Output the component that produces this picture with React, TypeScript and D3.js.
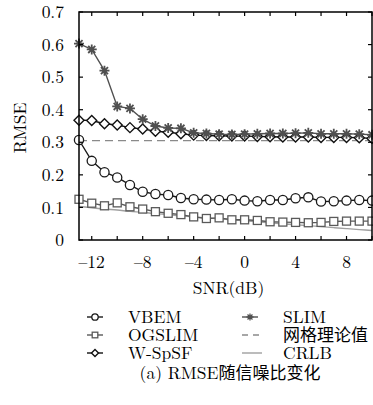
import React from "react";
import * as d3 from "d3";

const snr = d3.range(-13, 11, 1);
const vbem = [0.307, 0.243, 0.208, 0.192, 0.169, 0.148, 0.141, 0.138, 0.129, 0.125, 0.124, 0.123, 0.125, 0.121, 0.119, 0.123, 0.123, 0.128, 0.131, 0.118, 0.119, 0.121, 0.123, 0.121];
const ogslim = [0.125, 0.113, 0.105, 0.114, 0.102, 0.095, 0.087, 0.082, 0.078, 0.071, 0.066, 0.068, 0.062, 0.062, 0.06, 0.056, 0.055, 0.054, 0.053, 0.054, 0.057, 0.058, 0.058, 0.058];
const wspsf = [0.368, 0.367, 0.357, 0.353, 0.345, 0.341, 0.334, 0.331, 0.326, 0.322, 0.321, 0.32, 0.319, 0.319, 0.318, 0.317, 0.316, 0.316, 0.316, 0.315, 0.315, 0.315, 0.314, 0.312];
const slim = [0.603, 0.585, 0.52, 0.41, 0.404, 0.371, 0.35, 0.344, 0.343, 0.329, 0.327, 0.325, 0.324, 0.325, 0.326, 0.327, 0.327, 0.328, 0.329, 0.326, 0.326, 0.326, 0.325, 0.323];
const crlb = [0.103, 0.099, 0.095, 0.092, 0.088, 0.085, 0.081, 0.078, 0.074, 0.071, 0.068, 0.065, 0.062, 0.059, 0.056, 0.053, 0.05, 0.047, 0.044, 0.041, 0.038, 0.035, 0.032, 0.029];
const gridTheory = 0.305;
const yTicks = [0, 0.1, 0.2, 0.3, 0.4, 0.5, 0.6, 0.7];
const xLabels = [-12, -8, -4, 0, 4, 8];

const W = 373, H = 405;
const L = 79, R = 372, T = 12, B = 240;
const FS = 17.5;
const serif = { fontFamily: "Latin Modern Roman, Liberation Serif, serif" };
const cjk = { fontFamily: "Noto Sans CJK SC, sans-serif" };

const x = d3.scaleLinear().domain([-13, 10]).range([L, R]);
const y = d3.scaleLinear().domain([0, 0.7]).range([B, T]);

type Kind = "circle" | "square" | "diamond" | "star";

function Marker({ kind, cx, cy, color, k = 1 }: { kind: Kind; cx: number; cy: number; color: string; k?: number }) {
  if (kind === "circle") return <circle cx={cx} cy={cy} r={4.6 * k} fill="white" stroke={color} strokeWidth={1.3} />;
  if (kind === "square") return <rect x={cx - 4 * k} y={cy - 4 * k} width={8 * k} height={8 * k} fill="white" stroke={color} strokeWidth={1.3} />;
  if (kind === "diamond") {
    const s = 5 * k;
    return <path d={`M${cx},${cy - s}L${cx + s},${cy}L${cx},${cy + s}L${cx - s},${cy}Z`} fill="white" stroke={color} strokeWidth={1.4} />;
  }
  const r = 5 * k;
  const d = [0, 45, 90, 135]
    .map((a) => {
      const t = (a * Math.PI) / 180;
      return `M${cx - r * Math.cos(t)},${cy - r * Math.sin(t)}L${cx + r * Math.cos(t)},${cy + r * Math.sin(t)}`;
    })
    .join("");
  return (
    <g>
      <path d={d} stroke={color} strokeWidth={1.8 * k} />
      <circle cx={cx} cy={cy} r={2 * k} fill={color} />
    </g>
  );
}

const series: { name: string; values: number[]; kind: Kind; color: string }[] = [
  { name: "VBEM", values: vbem, kind: "circle", color: "#1a1a1a" },
  { name: "OGSLIM", values: ogslim, kind: "square", color: "#5a5a5a" },
  { name: "W-SpSF", values: wspsf, kind: "diamond", color: "#111" },
  { name: "SLIM", values: slim, kind: "star", color: "#505050" },
];

export default function App() {
  const line = d3
    .line<number>()
    .x((_, i) => x(snr[i]))
    .y((d) => y(d));
  const smooth = d3
    .line<number>()
    .x((_, i) => x(snr[i]))
    .y((d) => y(d))
    .curve(d3.curveMonotoneX);
  const minorX = d3.range(-12, 11, 2);

  return (
    <svg width={W} height={H} style={{ position: "absolute", left: 0, top: 0, background: "white" }}>
      {/* reference lines */}
      <line x1={L} x2={R} y1={y(gridTheory)} y2={y(gridTheory)} stroke="#8a8a8a" strokeWidth={1.3} strokeDasharray="8,5" />
      <path d={smooth(crlb) || ""} fill="none" stroke="#a0a0a0" strokeWidth={1.4} />
      {/* series */}
      {series.map((s) => (
        <g key={s.name}>
          <path d={line(s.values) || ""} fill="none" stroke={s.color} strokeWidth={1.4} />
          {s.values.map((v, i) => (
            <Marker key={i} kind={s.kind} cx={x(snr[i])} cy={y(v)} color={s.color} />
          ))}
        </g>
      ))}
      {/* frame & ticks */}
      <rect x={L} y={T} width={R - L} height={B - T} fill="none" stroke="black" strokeWidth={1.5} />
      {minorX.map((t) => (
        <g key={t}>
          <line x1={x(t)} x2={x(t)} y1={B} y2={B - 4} stroke="black" strokeWidth={1.2} />
          <line x1={x(t)} x2={x(t)} y1={T} y2={T + 4} stroke="black" strokeWidth={1.2} />
        </g>
      ))}
      {yTicks.map((t) => (
        <g key={t}>
          <line x1={L} x2={L + 4} y1={y(t)} y2={y(t)} stroke="black" strokeWidth={1.2} />
          <line x1={R} x2={R - 4} y1={y(t)} y2={y(t)} stroke="black" strokeWidth={1.2} />
          <text x={64} y={y(t)} dy="0.35em" textAnchor="end" fontSize={FS} style={serif}>
            {t === 0 ? "0" : t.toFixed(1)}
          </text>
        </g>
      ))}
      {xLabels.map((t) => (
        <text key={t} x={x(t)} y={B + 22} dy="0.35em" textAnchor="middle" fontSize={FS} style={serif}>
          {t < 0 ? `\u2013${Math.abs(t)}` : t}
        </text>
      ))}
      <text x={(L + R) / 2 + 3} y={B + 48} dy="0.35em" textAnchor="middle" fontSize={FS} style={serif}>
        SNR(dB)
      </text>
      <text transform={`translate(20,${(T + B) / 2 + 2}) rotate(-90)`} textAnchor="middle" dy="0.35em" fontSize={FS} style={serif}>
        RMSE
      </text>
      {/* legend */}
      {[
        { label: "VBEM", s: series[0], col: 0, row: 0 },
        { label: "OGSLIM", s: series[1], col: 0, row: 1 },
        { label: "W-SpSF", s: series[2], col: 0, row: 2 },
        { label: "SLIM", s: series[3], col: 1, row: 0 },
      ].map((e) => {
        const lx = e.col === 0 ? 87 : 242;
        const ly = 317 + e.row * 18;
        return (
          <g key={e.label}>
            <line x1={lx} x2={lx + 16} y1={ly} y2={ly} stroke={e.s.color} strokeWidth={1.4} />
            <Marker kind={e.s.kind} cx={lx + 8} cy={ly} color={e.s.color} k={0.7} />
            <text x={lx + 41} y={ly} dy="0.35em" fontSize={FS} style={serif}>
              {e.label}
            </text>
          </g>
        );
      })}
      <line x1={242} x2={262} y1={335} y2={335} stroke="#8a8a8a" strokeWidth={1.3} strokeDasharray="6,5" />
      <text x={283} y={335} dy="0.35em" fontSize={17} style={cjk}>
        网格理论值
      </text>
      <line x1={242} x2={262} y1={353} y2={353} stroke="#a0a0a0" strokeWidth={1.4} />
      <text x={283} y={353} dy="0.35em" fontSize={FS} style={serif}>
        CRLB
      </text>
      <text x={230} y={373} dy="0.35em" textAnchor="middle" fontSize={FS} style={serif}>
        (a) RMSE<tspan fontSize={17} style={cjk}>随信噪比变化</tspan>
      </text>
    </svg>
  );
}
